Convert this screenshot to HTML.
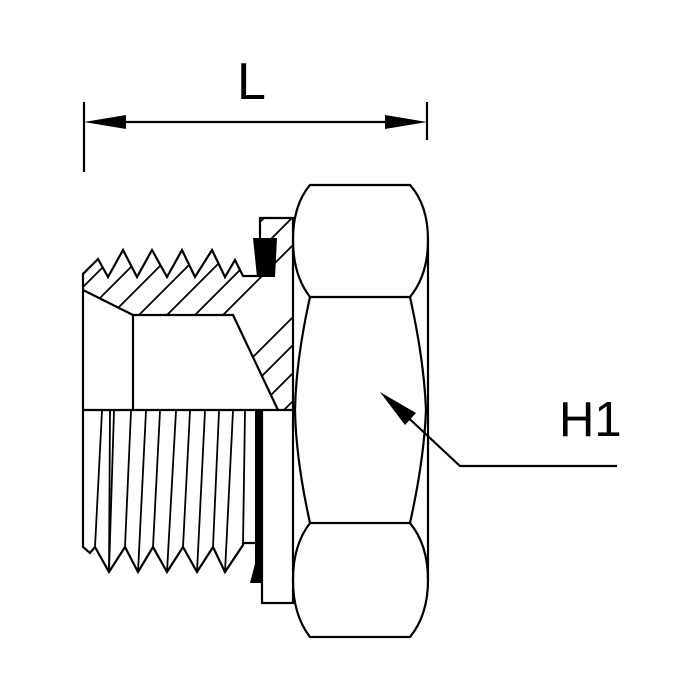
<!DOCTYPE html>
<html><head><meta charset="utf-8"><style>html,body{margin:0;padding:0;background:#fff}svg{display:block}</style></head>
<body>
<svg width="700" height="700" viewBox="0 0 700 700" xmlns="http://www.w3.org/2000/svg">
<defs>
<clipPath id="hc"><polygon points="83,274 98,259 108,277 123,250 137,277 152,250 167,277 182,250 195,277 212,250 225,277 235,260 243,276 260,276 260,218 293,218 293,410 278,410 233,315 133,315 83,290"/></clipPath>
</defs>
<g fill="none" stroke="#000" stroke-width="2.2" stroke-linejoin="miter">
<line x1="84" y1="102" x2="84" y2="172"/>
<line x1="427" y1="102" x2="427" y2="140"/>
<line x1="120" y1="122" x2="392" y2="122"/>
<g clip-path="url(#hc)" stroke-width="1.8">
<line x1="40" y1="330" x2="300" y2="70"/><line x1="68" y1="330" x2="328" y2="70"/>
<line x1="96" y1="330" x2="356" y2="70"/><line x1="124" y1="330" x2="384" y2="70"/>
<line x1="152" y1="330" x2="412" y2="70"/><line x1="180" y1="330" x2="440" y2="70"/>
<line x1="208" y1="330" x2="468" y2="70"/><line x1="160" y1="450" x2="420" y2="190"/>
<line x1="188" y1="450" x2="448" y2="190"/><line x1="216" y1="450" x2="476" y2="190"/>
<line x1="244" y1="450" x2="504" y2="190"/><line x1="272" y1="450" x2="532" y2="190"/>
<line x1="300" y1="450" x2="560" y2="190"/>
</g>
<polyline points="83,410 83,274 98,259 108,277 123,250 137,277 152,250 167,277 182,250 195,277 212,250 225,277 235,260 243,276 260,276"/>
<polyline points="83,290 133,315 233,315 278,410"/>
<line x1="133" y1="315" x2="133" y2="410"/>
<polyline points="260,238 260,218 293,218 293,603 262,603 262,410"/>
<line x1="83" y1="410" x2="293" y2="410"/>
<polyline points="83,410 83,547 90,553 95,547 109,572 125,547 138,572 153,547 167,572 183,547 197,572 213,547 225,572 243,545 243,543 255,543"/>
<g stroke-width="1.8">
<line x1="102" y1="411" x2="95" y2="547"/>
<line x1="110" y1="411" x2="109" y2="572"/>
<line x1="114" y1="411" x2="109" y2="572"/>
<line x1="131" y1="411" x2="125" y2="547"/>
<line x1="146" y1="411" x2="138" y2="572"/>
<line x1="160" y1="411" x2="153" y2="547"/>
<line x1="176" y1="411" x2="167" y2="572"/>
<line x1="190" y1="411" x2="183" y2="547"/>
<line x1="205" y1="411" x2="197" y2="572"/>
<line x1="219" y1="411" x2="213" y2="547"/>
<line x1="233" y1="411" x2="225" y2="572"/>
<line x1="245" y1="411" x2="243" y2="545"/>
</g>
<path d="M310,185 L410,185 Q428,205 428,240 Q428,275 410,297 L310,297 Q293,275 293,240 Q293,205 310,185 Z"/>
<path d="M310,297 Q296,360 295,410 Q296,460 310,523"/>
<path d="M410,297 Q424,360 426,410 Q424,460 410,523"/>
<path d="M310,523 L410,523 Q428,545 428,580 Q428,615 410,637 L310,637 Q293,615 293,580 Q293,545 310,523 Z"/>
<line x1="428" y1="240" x2="428" y2="580"/>
<polyline points="400,410 460,466 617,466"/>
</g>
<g fill="#000">
<polygon points="84,122 126,115 126,129"/>
<polygon points="427,122 385,115 385,129"/>
<polygon points="253,238 277,238 275,277 257,277"/>
<rect x="255" y="411" width="7" height="172"/>
<polygon points="250,583 256,560 256,583"/>
<polygon points="380,392 416,413 405,425"/>
</g>
<g font-family="Liberation Sans, sans-serif" fill="#000">
<text x="237" y="99" font-size="52">L</text>
<text x="559" y="436" font-size="49">H1</text>
</g>
</svg>
</body></html>
